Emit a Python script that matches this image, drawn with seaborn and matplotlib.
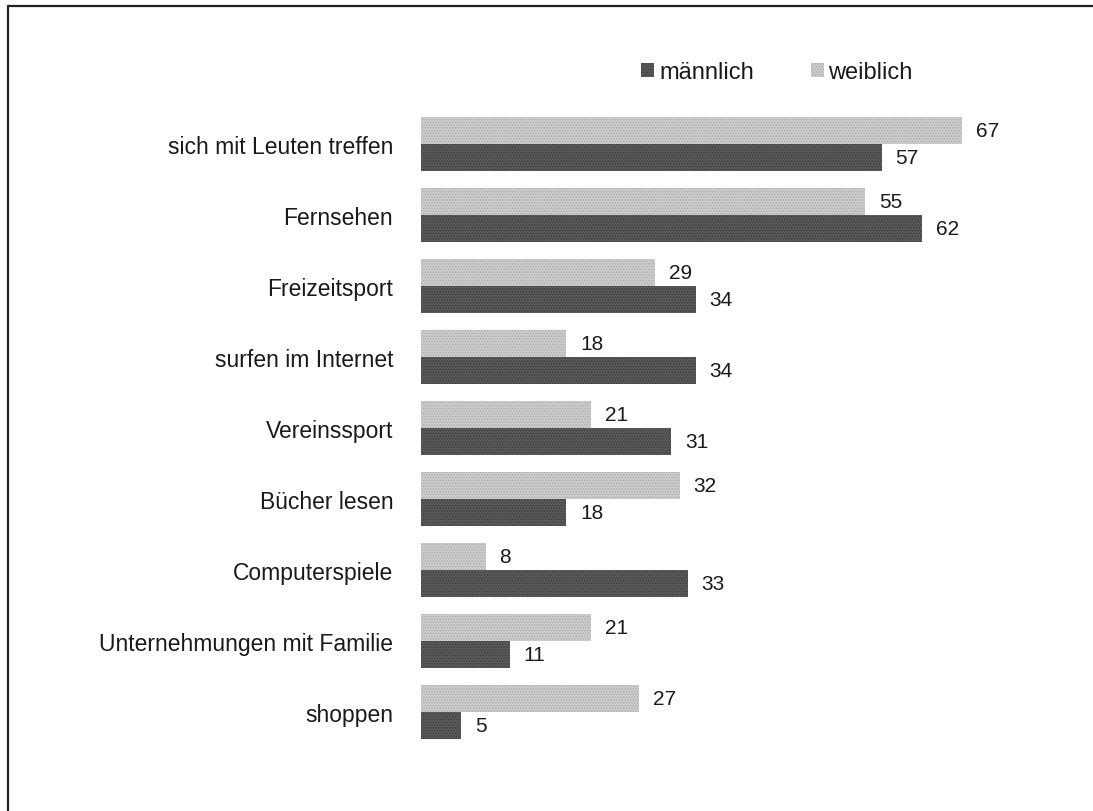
import matplotlib
matplotlib.use("Agg")
import matplotlib.pyplot as plt
import seaborn as sns
import pandas as pd
from matplotlib.patches import Patch
from matplotlib.lines import Line2D

categories = ["sich mit Leuten treffen", "Fernsehen", "Freizeitsport",
              "surfen im Internet", "Vereinssport", "Bücher lesen",
              "Computerspiele", "Unternehmungen mit Familie", "shoppen"]
maennlich = [57, 62, 34, 34, 31, 18, 33, 11, 5]
weiblich = [67, 55, 29, 18, 21, 32, 8, 21, 27]
series_names = ["männlich", "weiblich"]

sns.set_theme(style="white")
plt.rcParams['font.family'] = ['Liberation Sans', 'DejaVu Sans']
plt.rcParams['hatch.linewidth'] = 0.6

df = pd.DataFrame({
    "Kategorie": categories * 2,
    "Wert": weiblich + maennlich,
    "Geschlecht": [series_names[1]] * len(categories) + [series_names[0]] * len(categories),
})

colors = {series_names[0]: "#595959", series_names[1]: "#cbcbcb"}
hatch_colors = {series_names[0]: "#3c3c3c", series_names[1]: "#ababab"}

W, H = 1093, 812
fig = plt.figure(figsize=(W / 100, H / 100), dpi=100)
fig.patch.set_facecolor("white")
left_px, right_px = 421, 421 + 80 * 8.08
top_px, bot_px = 109.5, 748.5
ax = fig.add_axes([left_px / W, 1 - bot_px / H, (right_px - left_px) / W, (bot_px - top_px) / H])

hue_order = [series_names[1], series_names[0]]
sns.barplot(data=df, y="Kategorie", x="Wert", hue="Geschlecht",
            hue_order=hue_order, order=categories,
            palette=colors, width=0.75, orient="h", ax=ax, legend=False,
            linewidth=0, saturation=1)

for cont, name in zip(ax.containers, hue_order):
    for bar in cont:
        bar.set_hatch("......")
        bar.set_edgecolor(hatch_colors[name])
        bar.set_linewidth(0)
    ax.bar_label(cont, padding=10, fontsize=15, color="#1a1a1a")

ax.set_xlim(0, 80)
ax.set_ylim(8.5, -0.5)
ax.set_xlabel("")
ax.set_ylabel("")
ax.set_xticks([])
ax.tick_params(axis="y", length=0, pad=20, labelsize=16.5, labelcolor="#1a1a1a")
for s in ax.spines.values():
    s.set_visible(False)

handles = [Patch(facecolor=colors[n], edgecolor=hatch_colors[n], hatch="......", linewidth=0)
           for n in series_names]
fig.legend(handles, series_names, loc="center", bbox_to_anchor=(777 / W, 1 - 73 / H),
           ncol=2, frameon=False, fontsize=17, handlelength=0.55, handleheight=0.55,
           handletextpad=0.2, columnspacing=2.4, labelcolor="#1a1a1a")

# scanned frame lines (top and left)
fig.add_artist(Line2D([8 / W, 1.0], [1 - 7 / H, 1 - 7 / H], transform=fig.transFigure,
                      color="#222222", lw=1.6))
fig.add_artist(Line2D([8 / W, 8 / W], [0.0, 1 - 7 / H], transform=fig.transFigure,
                      color="#222222", lw=1.6))

fig.savefig("out.png", dpi=100, facecolor="white")
